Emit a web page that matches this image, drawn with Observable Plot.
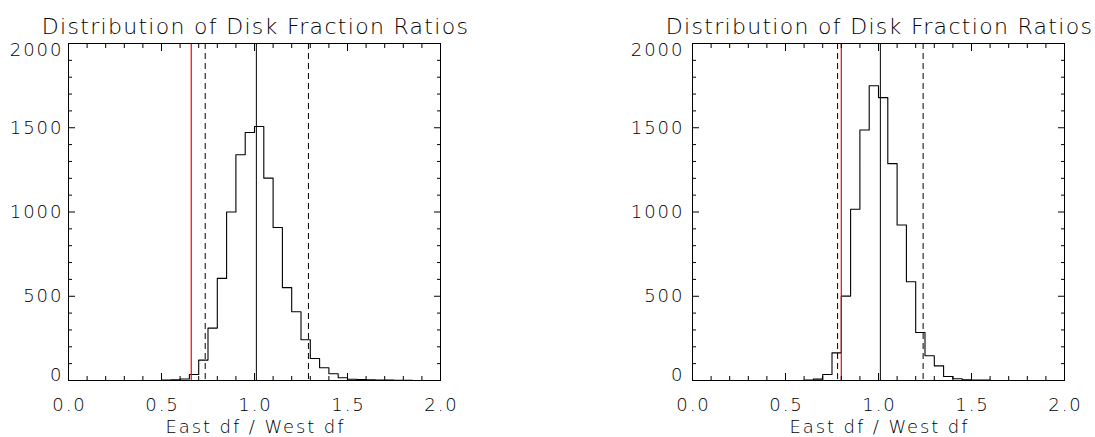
<!DOCTYPE html>
<html><head><meta charset="utf-8">
<script src="https://cdn.jsdelivr.net/npm/d3@7"></script>
<script src="https://cdn.jsdelivr.net/npm/@observablehq/plot@0.6"></script>
<style>
body{margin:0;background:#fff;}
#wrap{display:flex;width:1095px;height:437px;overflow:hidden;}
#wrap svg{flex:none;}
</style></head><body><div id="wrap"></div>
<script>
const titleText = "Distribution of Disk Fraction Ratios";
const xLabel = "East df / West df";
const xMajor = [0, 0.5, 1.0, 1.5, 2.0];
const xMinor = [0.1, 0.2, 0.3, 0.4, 0.6, 0.7, 0.8, 0.9, 1.1, 1.2, 1.3, 1.4, 1.6, 1.7, 1.8, 1.9];
const yMajor = [0, 500, 1000, 1500, 2000];
const yMinor = [100, 200, 300, 400, 600, 700, 800, 900, 1100, 1200, 1300, 1400, 1600, 1700, 1800, 1900];

// Left panel histogram (bin start, count), bin width 0.05
const leftBinStart = [0.50, 0.55, 0.60, 0.65, 0.70, 0.75, 0.80, 0.85, 0.90, 0.95, 1.00, 1.05, 1.10, 1.15, 1.20, 1.25, 1.30, 1.35, 1.40, 1.45, 1.50, 1.55, 1.60, 1.65, 1.70, 1.75, 1.80];
const leftCounts   = [3,    4,    9,    36,   121,  311,  606,  1000, 1340, 1472, 1507, 1201, 908,  551,  408,  242,  131,  76,   40,   16,   7,    6,    4,    3,    2,    1,    1];
const leftBinEnd = 1.85;
const leftRed = [0.66];
const leftSolid = [1.01];
const leftDashed = [0.735, 1.29];

// Right panel histogram
const rightBinStart = [0.60, 0.65, 0.70, 0.75, 0.80, 0.85, 0.90, 0.95, 1.00, 1.05, 1.10, 1.15, 1.20, 1.25, 1.30, 1.35, 1.40, 1.45, 1.50, 1.55];
const rightCounts   = [3,    8,    36,   164,  501,  1016, 1487, 1749, 1679, 1287, 923,  586,  285,  147,  87,   24,   10,   4,    3,    2];
const rightBinEnd = 1.60;
const rightRed = [0.80];
const rightSolid = [1.01];
const rightDashed = [0.78, 1.24];

const FONT = "DejaVu Sans";

function panel({binStart, counts, binEnd, red, solid, dashed, width, marginLeft, marginRight, yPad}) {
  const steps = binStart.map((x, i) => ({x, y: counts[i]}));
  steps.push({x: binEnd, y: counts[counts.length - 1]});
  const svg = Plot.plot({
    width, height: 437,
    marginLeft, marginRight, marginTop: 43, marginBottom: 57,
    style: {fontFamily: FONT, fontSize: "18px", fontWeight: 200, color: "#000", background: "#fff"},
    x: {domain: [0, 2], nice: false},
    y: {domain: [0, 2000], nice: false},
    marks: [
      Plot.line(steps, {x: "x", y: "y", curve: "step-after", stroke: "#000", strokeWidth: 1.1}),
      Plot.ruleX(dashed, {stroke: "#000", strokeWidth: 1, strokeDasharray: "6,4"}),
      Plot.ruleX(solid, {stroke: "#000", strokeWidth: 1}),
      Plot.ruleX(red, {stroke: "#ff0000", strokeWidth: 1.2}),
      // ticks (inward, mirrored)
      Plot.axisX({ticks: xMajor, anchor: "bottom", tickSize: 7, dy: -7, fill: "none", label: null}),
      Plot.axisX({ticks: xMinor, anchor: "bottom", tickSize: 4, dy: -4, fill: "none", label: null}),
      Plot.axisX({ticks: xMajor, anchor: "top", tickSize: 7, dy: 7, fill: "none", label: null}),
      Plot.axisX({ticks: xMinor, anchor: "top", tickSize: 4, dy: 4, fill: "none", label: null}),
      Plot.axisY({ticks: yMajor, anchor: "left", tickSize: 7, dx: 7, fill: "none", label: null}),
      Plot.axisY({ticks: yMinor, anchor: "left", tickSize: 4, dx: 4, fill: "none", label: null}),
      Plot.axisY({ticks: yMajor, anchor: "right", tickSize: 7, dx: -7, fill: "none", label: null}),
      Plot.axisY({ticks: yMinor, anchor: "right", tickSize: 4, dx: -4, fill: "none", label: null}),
      // tick labels
      Plot.axisX({ticks: xMajor, anchor: "bottom", tickSize: 0, tickPadding: 18, dx: 1, tickFormat: d3.format(".1f"), label: null, fontSize: 18}),
      Plot.axisY({ticks: [500, 1000, 1500], anchor: "left", tickSize: 0, tickPadding: yPad, tickFormat: d => String(d), label: null, fontSize: 18}),
      Plot.axisY({ticks: [0], anchor: "left", tickSize: 0, tickPadding: yPad, dy: -5, tickFormat: d => String(d), label: null, fontSize: 18}),
      Plot.axisY({ticks: [2000], anchor: "left", tickSize: 0, tickPadding: yPad, dy: 7, tickFormat: d => String(d), label: null, fontSize: 18}),
      Plot.frame({stroke: "#000", strokeWidth: 1}),
      Plot.text([titleText], {text: d => d, frameAnchor: "top", lineAnchor: "bottom", dy: -10, dx: 1, fontSize: 22, fill: "#000"}),
      Plot.text([xLabel], {text: d => d, frameAnchor: "bottom", lineAnchor: "bottom", dy: 52, dx: 1, fontSize: 18, fill: "#000"})
    ]
  });
  // wider, Hershey-like letter spacing
  svg.querySelectorAll("text").forEach(t => {
    const s = t.textContent;
    if (s === titleText) t.style.letterSpacing = "1.3px";
    else if (s === xLabel) t.style.letterSpacing = "1.9px";
    else t.style.letterSpacing = "2px";
  });
  return svg;
}

const wrap = document.getElementById("wrap");
wrap.appendChild(panel({binStart: leftBinStart, counts: leftCounts, binEnd: leftBinEnd, red: leftRed, solid: leftSolid, dashed: leftDashed,
  width: 548, marginLeft: 68, marginRight: 108, yPad: 5}));
wrap.appendChild(panel({binStart: rightBinStart, counts: rightCounts, binEnd: rightBinEnd, red: rightRed, solid: rightSolid, dashed: rightDashed,
  width: 547, marginLeft: 144, marginRight: 31, yPad: 8}));
</script></body></html>
